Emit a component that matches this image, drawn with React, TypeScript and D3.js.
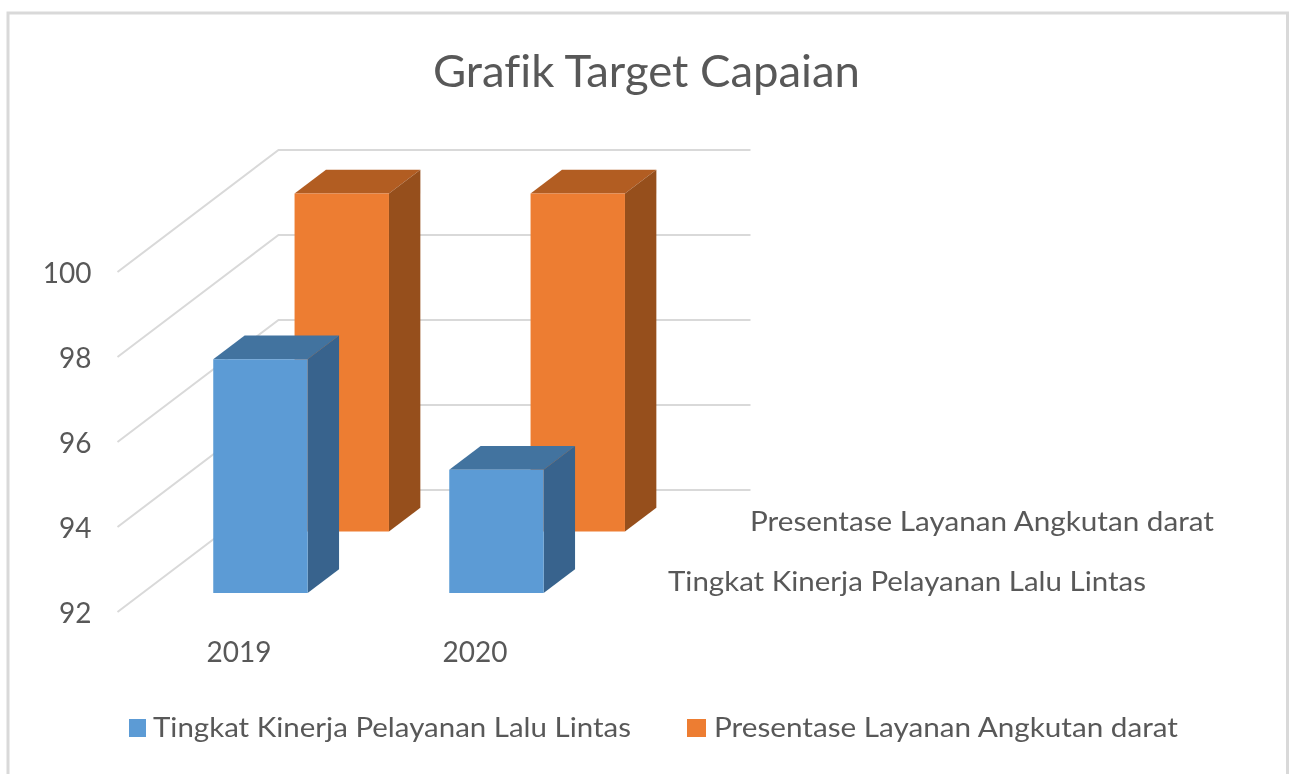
import React from "react";
import * as d3 from "d3";

const categories = ["2019", "2020"];
const seriesNames = ["Tingkat Kinerja Pelayanan Lalu Lintas", "Presentase Layanan Angkutan darat"];
const tingkatValues = [97.5, 94.9];
const presentaseValues = [99.95, 99.95];
const yTicks = [92, 94, 96, 98, 100];
const titleText = "Grafik Target Capaian";

const FONT = "Lato, 'Open Sans', sans-serif";
const TEXT = "#595959";
const GRID = "#d9d9d9";

const W = 1295, H = 774;
const x = d3.scaleBand<string>().domain(categories).range([117.5, 589.5]);
const y = d3.scaleLinear().domain([92, 100]).range([612, 272]);
// oblique projection: depth 0..1 shifts right and upward
const depthDX = 161, depthDY = -122;
const depth = d3.scaleBand<string>().domain(seriesNames).range([0, 1.01]);
const barW = x.bandwidth() * 0.4;
const barD = 0.195;

const proj = (px: number, v: number, d: number): [number, number] => [px + d * depthDX, y(v) + d * depthDY];
const line = d3.line();

const seriesStyle = [
  { values: tingkatValues, front: "#5b9bd5", top: "#42739f", side: "#37648d" },
  { values: presentaseValues, front: "#ed7d31", top: "#b25d24", side: "#964f1c" },
];

function Bar({ cat, v, s, st }: { cat: string; v: number; s: string; st: (typeof seriesStyle)[number] }) {
  const x0 = x(cat)! + (x.bandwidth() - barW) / 2;
  const x1 = x0 + barW;
  const d0 = depth(s)! + depth.bandwidth() / 2 - barD / 2;
  const d1 = d0 + barD;
  const poly = (pts: [number, number][]) => line(pts)! + "Z";
  return (
    <g>
      <path d={poly([proj(x0, v, d0), proj(x1, v, d0), proj(x1, v, d1), proj(x0, v, d1)])} fill={st.top} />
      <path d={poly([proj(x1, 92, d0), proj(x1, v, d0), proj(x1, v, d1), proj(x1, 92, d1)])} fill={st.side} />
      <path d={poly([proj(x0, 92, d0), proj(x1, 92, d0), proj(x1, v, d0), proj(x0, v, d0)])} fill={st.front} />
    </g>
  );
}

export default function App() {
  return (
    <svg width={W} height={H} style={{ position: "fixed", left: 0, top: 0, display: "block", background: "#fff", fontVariantLigatures: "none" }}>
      <defs>
        <filter id="soft" x="-2%" y="-2%" width="104%" height="104%">
          <feGaussianBlur stdDeviation="0.55" />
        </filter>
      </defs>
      <g filter="url(#soft)">
        <path d={`M8 ${H + 5}V13H1287.5V${H + 5}`} fill="none" stroke={GRID} strokeWidth={3} />
        <text x={646.5} y={87} textAnchor="middle" fontFamily={FONT} fontSize={44} fill={TEXT} textLength={427} lengthAdjust="spacingAndGlyphs">
          {titleText}
        </text>
        {yTicks.map((t) => (
          <g key={t}>
            <path
              d={line([proj(117.5, t, 0), proj(117.5, t, 1), proj(589.5, t, 1)])!}
              fill="none"
              stroke={GRID}
              strokeWidth={2}
            />
            <text x={91.5} y={y(t) + 11} textAnchor="end" fontFamily={FONT} fontSize={28} fill={TEXT}>
              {t}
            </text>
          </g>
        ))}
        {[1, 0].map((si) =>
          categories.map((c, ci) => (
            <Bar key={c + si} cat={c} v={seriesStyle[si].values[ci]} s={seriesNames[si]} st={seriesStyle[si]} />
          ))
        )}
        {categories.map((c) => (
          <text key={c} x={x(c)! + x.bandwidth() / 2 + 3.5} y={662} fontFamily={FONT} fontSize={28} fill={TEXT} textAnchor="middle">
            {c}
          </text>
        ))}
        <text x={750} y={531} fontFamily={FONT} fontSize={27} fill={TEXT} textLength={464} lengthAdjust="spacingAndGlyphs">
          {seriesNames[1]}
        </text>
        <text x={668} y={591} fontFamily={FONT} fontSize={27} fill={TEXT} textLength={478} lengthAdjust="spacingAndGlyphs">
          {seriesNames[0]}
        </text>
        <rect x={129} y={719} width={17} height={18} fill={seriesStyle[0].front} />
        <text x={153} y={737} fontFamily={FONT} fontSize={27} fill={TEXT} textLength={478} lengthAdjust="spacingAndGlyphs">
          {seriesNames[0]}
        </text>
        <rect x={687} y={719} width={19} height={18} fill={seriesStyle[1].front} />
        <text x={714} y={737} fontFamily={FONT} fontSize={27} fill={TEXT} textLength={464} lengthAdjust="spacingAndGlyphs">
          {seriesNames[1]}
        </text>
      </g>
    </svg>
  );
}
